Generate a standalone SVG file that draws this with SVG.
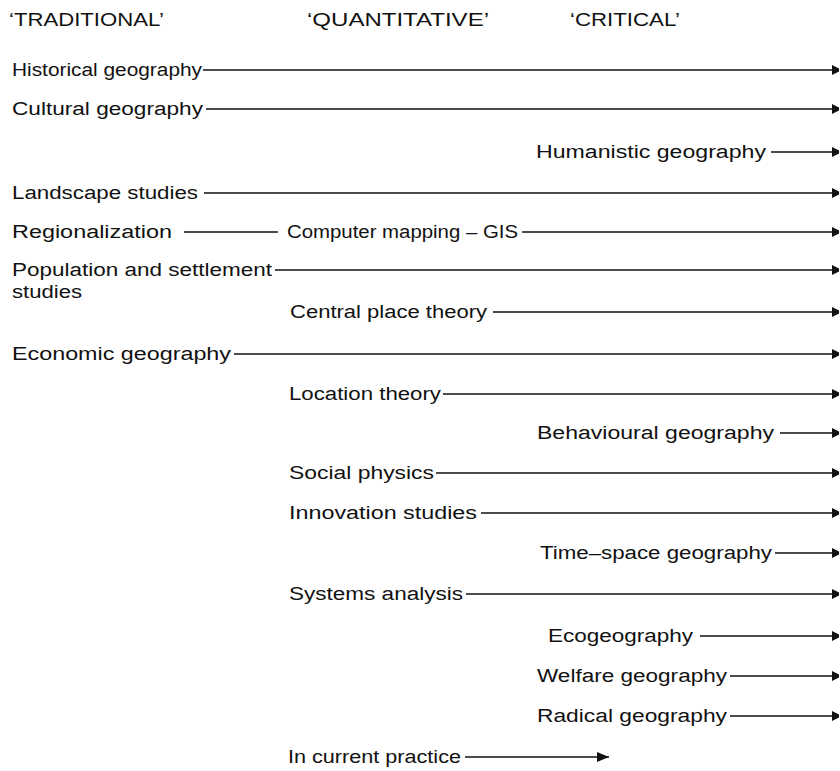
<svg xmlns="http://www.w3.org/2000/svg" width="840" height="771" viewBox="0 0 840 771">
  <style>
    text { font-family: "Liberation Sans", Arial, sans-serif; font-size: 18px; fill: #111; }
    .ln { stroke: #111; stroke-width: 1.6; fill: none; }
  </style>
  <defs>
    <marker id="tip" markerUnits="userSpaceOnUse" markerWidth="8" markerHeight="12" refX="7" refY="6" orient="auto">
      <path d="M0,1 L7,4.5 L7,7.5 L0,11 Z" fill="#111"/>
    </marker>
    <marker id="tipBig" markerUnits="userSpaceOnUse" markerWidth="14" markerHeight="12" refX="12" refY="6" orient="auto">
      <path d="M0,1 L12,6 L0,11 Z" fill="#111"/>
    </marker>
  </defs>
  <rect width="840" height="771" fill="#fff"/>

  <!-- column headings -->
  <g id="headings">
    <text x="9" y="26" textLength="155" lengthAdjust="spacingAndGlyphs">‘TRADITIONAL’</text>
    <text x="307" y="26" textLength="182" lengthAdjust="spacingAndGlyphs">‘QUANTITATIVE’</text>
    <text x="570" y="26" textLength="110" lengthAdjust="spacingAndGlyphs">‘CRITICAL’</text>
  </g>

  <!-- approaches -->
  <g id="historical"><text x="12" y="76" textLength="190" lengthAdjust="spacingAndGlyphs">Historical geography</text></g>
  <g id="cultural"><text x="12" y="115" textLength="191" lengthAdjust="spacingAndGlyphs">Cultural geography</text></g>
  <g id="humanistic"><text x="536" y="158" textLength="230" lengthAdjust="spacingAndGlyphs">Humanistic geography</text></g>
  <g id="landscape"><text x="12" y="199" textLength="186" lengthAdjust="spacingAndGlyphs">Landscape studies</text></g>
  <g id="regionalization"><text x="12" y="238" textLength="160" lengthAdjust="spacingAndGlyphs">Regionalization</text></g>
  <g id="gis"><text x="287" y="238" textLength="231" lengthAdjust="spacingAndGlyphs">Computer mapping – GIS</text></g>
  <g id="population"><text x="12" y="276" textLength="260" lengthAdjust="spacingAndGlyphs">Population and settlement</text><text x="12" y="298" textLength="70" lengthAdjust="spacingAndGlyphs">studies</text></g>
  <g id="central-place"><text x="290" y="318" textLength="197" lengthAdjust="spacingAndGlyphs">Central place theory</text></g>
  <g id="economic"><text x="12" y="360" textLength="219" lengthAdjust="spacingAndGlyphs">Economic geography</text></g>
  <g id="location"><text x="289" y="400" textLength="152" lengthAdjust="spacingAndGlyphs">Location theory</text></g>
  <g id="behavioural"><text x="537" y="439" textLength="237" lengthAdjust="spacingAndGlyphs">Behavioural geography</text></g>
  <g id="social-physics"><text x="289" y="479" textLength="145" lengthAdjust="spacingAndGlyphs">Social physics</text></g>
  <g id="innovation"><text x="289" y="519" textLength="188" lengthAdjust="spacingAndGlyphs">Innovation studies</text></g>
  <g id="time-space"><text x="540" y="559" textLength="232" lengthAdjust="spacingAndGlyphs">Time–space geography</text></g>
  <g id="systems"><text x="289" y="600" textLength="174" lengthAdjust="spacingAndGlyphs">Systems analysis</text></g>
  <g id="ecogeography"><text x="548" y="642" textLength="145" lengthAdjust="spacingAndGlyphs">Ecogeography</text></g>
  <g id="welfare"><text x="537" y="682" textLength="190" lengthAdjust="spacingAndGlyphs">Welfare geography</text></g>
  <g id="radical"><text x="537" y="722" textLength="190" lengthAdjust="spacingAndGlyphs">Radical geography</text></g>
  <g id="key"><text x="288" y="763" textLength="173" lengthAdjust="spacingAndGlyphs">In current practice</text></g>

  <!-- connectors -->
  <g id="connectors">
    <line class="ln" x1="203" y1="70" x2="839" y2="70" marker-end="url(#tip)"/>
    <line class="ln" x1="206" y1="109" x2="839" y2="109" marker-end="url(#tip)"/>
    <line class="ln" x1="771" y1="152" x2="839" y2="152" marker-end="url(#tip)"/>
    <line class="ln" x1="204" y1="193" x2="839" y2="193" marker-end="url(#tip)"/>
    <line class="ln" x1="184" y1="232" x2="278" y2="232"/>
    <line class="ln" x1="522" y1="232" x2="839" y2="232" marker-end="url(#tip)"/>
    <line class="ln" x1="275" y1="270" x2="839" y2="270" marker-end="url(#tip)"/>
    <line class="ln" x1="493" y1="312" x2="839" y2="312" marker-end="url(#tip)"/>
    <line class="ln" x1="234" y1="354" x2="839" y2="354" marker-end="url(#tip)"/>
    <line class="ln" x1="443" y1="394" x2="839" y2="394" marker-end="url(#tip)"/>
    <line class="ln" x1="780" y1="433" x2="839" y2="433" marker-end="url(#tip)"/>
    <line class="ln" x1="436" y1="473" x2="839" y2="473" marker-end="url(#tip)"/>
    <line class="ln" x1="481" y1="513" x2="839" y2="513" marker-end="url(#tip)"/>
    <line class="ln" x1="775" y1="553" x2="839" y2="553" marker-end="url(#tip)"/>
    <line class="ln" x1="466" y1="594" x2="839" y2="594" marker-end="url(#tip)"/>
    <line class="ln" x1="700" y1="636" x2="839" y2="636" marker-end="url(#tip)"/>
    <line class="ln" x1="730" y1="676" x2="839" y2="676" marker-end="url(#tip)"/>
    <line class="ln" x1="730" y1="716" x2="839" y2="716" marker-end="url(#tip)"/>
    <line class="ln" x1="465" y1="757" x2="609" y2="757" marker-end="url(#tipBig)"/>
  </g>
</svg>
